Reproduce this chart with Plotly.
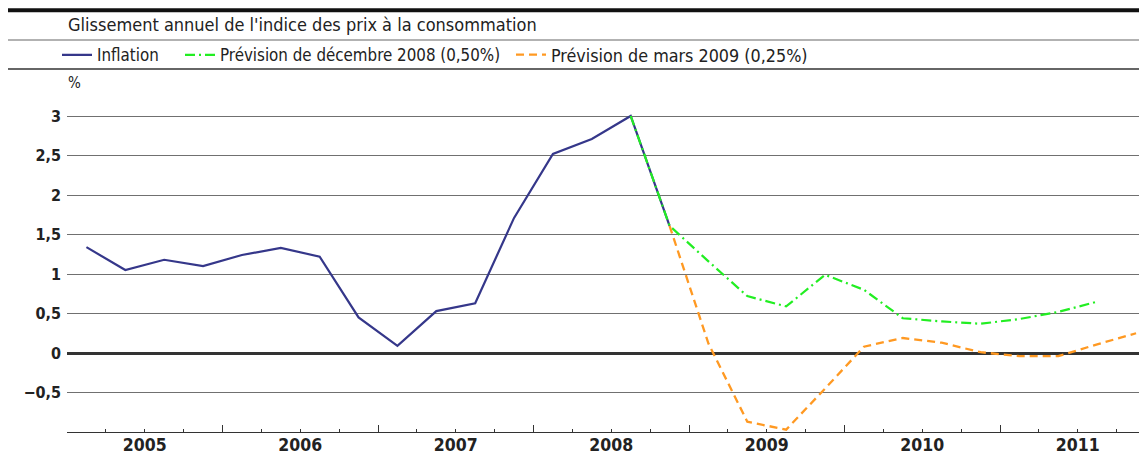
import plotly.graph_objects as go

# ---- data (annual CPI growth, %) ----
years = [2005, 2006, 2007, 2008, 2009, 2010, 2011]
inflation_start = "2005T1"
inflation = [1.34, 1.05, 1.18, 1.10, 1.24, 1.33, 1.22, 0.45,
             0.09, 0.53, 0.63, 1.71, 2.52, 2.71, 3.00, 1.61]
prev_dec08_start = "2008T3"
prev_dec08 = [3.00, 1.61, 1.16, 0.72, 0.59, 0.99, 0.80, 0.44,
              0.40, 0.37, 0.43, 0.52, 0.65]
prev_mar09_start = "2008T4"
prev_mar09 = [1.61, 0.12, -0.87, -0.97, -0.45, 0.08, 0.19, 0.13,
              0.01, -0.04, -0.04, 0.11, 0.25]
y_tickvals = [-0.5, 0, 0.5, 1, 1.5, 2, 2.5, 3]
y_ticktext = ["\u22120,5", "0", "0,5", "1", "1,5", "2", "2,5", "3"]
names = ["Inflation", "Prévision de décembre 2008 (0,50%)",
         "Prévision de mars 2009 (0,25%)"]
title_text = "Glissement annuel de l'indice des prix à la consommation"


def quarter_positions(start, n):
    y, q = start.split("T")
    idx0 = (int(y) - years[0]) * 4 + int(q) - 1
    return [years[0] + (idx0 + i + 0.5) / 4 for i in range(n)]


FONT = "DejaVu Sans Condensed"
OFF = 8                      # page body margin of the browser
VW, VH = 1147, 457           # window size
W, H = VW - OFF, VH - OFF    # figure size
# plot area in window pixels
P_LEFT, P_RIGHT, P_TOP, P_BOTTOM = 67, 1147, 88, 432
L, R = P_LEFT - OFF, OFF + W - P_RIGHT
T, B = P_TOP - OFF, OFF + H - P_BOTTOM
PW, PH = W - L - R, H - T - B
PX_PER_YEAR = 155.5
PX_PER_UNIT = 79.0
x_range = [years[0], years[0] + PW / PX_PER_YEAR]
y_range = [-1, -1 + PH / PX_PER_UNIT]


def px_x(px):
    return (px - P_LEFT) / PW


def px_y(py):
    return (P_BOTTOM - py) / PH


fig = go.Figure()
fig.add_trace(go.Scatter(
    x=quarter_positions(inflation_start, len(inflation)), y=inflation,
    mode="lines", name=names[0], legend="legend",
    line=dict(color="#35378a", width=2.2)))
fig.add_trace(go.Scatter(
    x=quarter_positions(prev_dec08_start, len(prev_dec08)), y=prev_dec08,
    mode="lines", name=names[1], legend="legend2",
    line=dict(color="#22ee22", width=2.2, dash="10px,4px,2px,4px")))
fig.add_trace(go.Scatter(
    x=quarter_positions(prev_mar09_start, len(prev_mar09)), y=prev_mar09,
    mode="lines", name=names[2], legend="legend3",
    line=dict(color="#ff9922", width=2.3, dash="8px,5px")))
# invisible carrier for the year-label axis
fig.add_trace(go.Scatter(
    x=quarter_positions(inflation_start, len(inflation)), y=inflation,
    xaxis="x2", mode="lines", opacity=0, showlegend=False, hoverinfo="skip"))

quarter_bounds = [years[0] + i / 4 for i in range(0, 4 * (len(years) + 1))]
year_bounds = years + [years[-1] + 1]
legend_font = dict(family=FONT, size=16.8, color="#222")

fig.update_layout(
    width=W, height=H,
    margin=dict(l=L, r=R, t=T, b=B, pad=0),
    paper_bgcolor="white", plot_bgcolor="white",
    font=dict(family=FONT, size=16, color="#222"),
    xaxis=dict(range=x_range, tickvals=year_bounds, ticks="inside",
               ticklen=7, tickwidth=1.2, tickcolor="#333",
               showticklabels=False, showgrid=False, zeroline=False,
               showline=True, linecolor="#333", linewidth=1.3,
               minor=dict(tickvals=quarter_bounds, ticks="inside",
                          ticklen=3, tickwidth=1.2, tickcolor="#333",
                          showgrid=False)),
    xaxis2=dict(range=x_range, overlaying="x", anchor="y", side="bottom",
                tickvals=[y + 0.5 for y in years],
                ticktext=[str(y) for y in years], ticks="",
                showline=False, showgrid=False, zeroline=False,
                tickfont=dict(family=FONT, size=17.5, color="#222",
                              weight="bold")),
    yaxis=dict(range=y_range, tickvals=y_tickvals, ticktext=y_ticktext,
               showgrid=True, gridcolor="#707070", gridwidth=1.3,
               zeroline=True, zerolinecolor="#333", zerolinewidth=2.8,
               showline=False, ticks="", ticklabelstandoff=5,
               tickfont=dict(family=FONT, size=16, color="#222",
                             weight="bold")),
    legend=dict(x=px_x(57), y=px_y(55), xanchor="left", yanchor="middle",
                orientation="h", bgcolor="rgba(0,0,0,0)", borderwidth=0,
                font=legend_font),
    legend2=dict(x=px_x(180), y=px_y(55), xanchor="left", yanchor="middle",
                 orientation="h", bgcolor="rgba(0,0,0,0)", borderwidth=0,
                 font=legend_font),
    legend3=dict(x=px_x(511), y=px_y(55), xanchor="left", yanchor="middle",
                 orientation="h", bgcolor="rgba(0,0,0,0)", borderwidth=0,
                 font=dict(family=FONT, size=17.8, color="#222")),
    showlegend=True,
)

# header rules
for py, color, width in [(10.3, "#111", 4), (40, "#999", 1.5), (69, "#333", 1.3)]:
    fig.add_shape(type="line", xref="paper", yref="paper",
                  x0=px_x(OFF), x1=px_x(VW), y0=px_y(py), y1=px_y(py),
                  line=dict(color=color, width=width))

fig.add_annotation(text=title_text, xref="paper", yref="paper",
                   x=px_x(66), y=px_y(25), xanchor="left", yanchor="middle",
                   showarrow=False, font=dict(family=FONT, size=18, color="#222"))
fig.add_annotation(text="%", xref="paper", yref="paper",
                   x=px_x(66), y=px_y(83), xanchor="left", yanchor="middle",
                   showarrow=False, font=dict(family=FONT, size=15, color="#222"))

fig.write_html("out.html")
